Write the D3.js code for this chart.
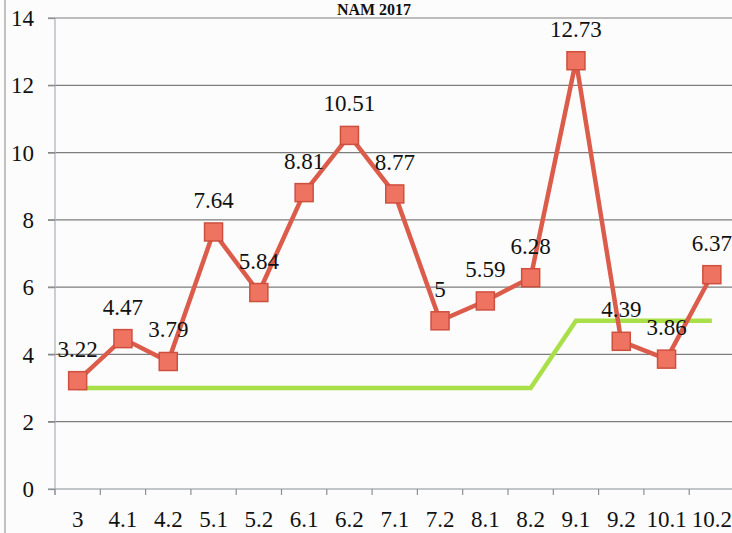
<!DOCTYPE html>
<html>
<head>
<meta charset="utf-8">
<script src="https://cdn.jsdelivr.net/npm/d3@7"></script>
<style>
  html, body { margin: 0; padding: 0; background: #fcfcfc; }
  svg { display: block; }
  svg text { font-family: 'Liberation Serif', 'Times New Roman', Tinos, 'DejaVu Serif', serif; fill: #111; }
</style>
</head>
<body>
<div id="chart"></div>
<script>
const categories = ['3', '4.1', '4.2', '5.1', '5.2', '6.1', '6.2', '7.1', '7.2', '8.1', '8.2', '9.1', '9.2', '10.1', '10.2'];
const measured = [3.22, 4.47, 3.79, 7.64, 5.84, 8.81, 10.51, 8.77, 5, 5.59, 6.28, 12.73, 4.39, 3.86, 6.37];
const limit = [3, 3, 3, 3, 3, 3, 3, 3, 3, 3, 3, 5, 5, 5, 5];
const yTicks = [0, 2, 4, 6, 8, 10, 12, 14];
const title = 'NAM 2017';

const width = 732, height = 533;
const serif = "'Liberation Serif', 'Times New Roman', Tinos, 'DejaVu Serif', serif";

const svg = d3.select('#chart')
    .append('svg')
    .attr('width', width)
    .attr('height', height)
    .attr('font-family', serif);

const x = d3.scaleBand()
    .domain(categories)
    .range([55, 734.5])
    .padding(0);

const y = d3.scaleLinear()
    .domain([0, 14])
    .range([489, 18]);

const cx = d => x(d) + x.bandwidth() / 2;

// outer frame edge on the left
svg.append('line')
    .attr('x1', 5).attr('x2', 5)
    .attr('y1', 0).attr('y2', height)
    .attr('stroke', '#9a9a9a')
    .attr('stroke-width', 1.2);

// title (only its lower part shows in the source)
svg.append('text')
    .attr('x', 374)
    .attr('y', 15)
    .attr('text-anchor', 'middle')
    .attr('font-size', 16)
    .attr('font-weight', 'bold')
    .text(title);

// gridlines
svg.append('g')
    .selectAll('line')
    .data(yTicks)
    .join('line')
    .attr('x1', 48)
    .attr('x2', width)
    .attr('y1', d => y(d))
    .attr('y2', d => y(d))
    .attr('stroke', d => d === 0 ? '#8a8f95' : '#7d7d7d')
    .attr('stroke-width', 1.2);

// y axis
const yAxis = svg.append('g')
    .attr('transform', 'translate(55,0)')
    .call(d3.axisLeft(y).tickValues(yTicks).tickSize(7).tickPadding(14));
yAxis.attr('font-family', serif);
yAxis.select('.domain').attr('stroke', '#a9aec0').attr('stroke-width', 1.2)
    .attr('d', `M0,${y(14)}V${y(0) + 6}`);
yAxis.selectAll('.tick line').attr('stroke', '#8a8f95').attr('stroke-width', 1.2);
yAxis.selectAll('.tick text')
    .attr('font-size', 23)
    .attr('fill', '#111')
    .attr('dy', '0.33em');

// x axis
const xAxis = svg.append('g')
    .attr('transform', `translate(0,${y(0)})`)
    .call(d3.axisBottom(x).tickSize(0).tickPadding(38));
xAxis.attr('font-family', serif);
xAxis.select('.domain').remove();
xAxis.selectAll('.tick text')
    .attr('font-size', 23)
    .attr('fill', '#111')
    .attr('dy', 0);
svg.append('g')
    .selectAll('line')
    .data(categories)
    .join('line')
    .attr('x1', d => x(d))
    .attr('x2', d => x(d))
    .attr('y1', y(0))
    .attr('y2', y(0) + 6)
    .attr('stroke', '#8a8f95')
    .attr('stroke-width', 1.2);

// limit line (green)
const limitLine = d3.line()
    .x((d, i) => cx(categories[i]))
    .y(d => y(d));
svg.append('path')
    .datum(limit)
    .attr('d', limitLine)
    .attr('fill', 'none')
    .attr('stroke', '#a9e04a')
    .attr('stroke-width', 4.5);

// measured line (red)
const measLine = d3.line()
    .x((d, i) => cx(categories[i]))
    .y(d => y(d));
svg.append('path')
    .datum(measured)
    .attr('d', measLine)
    .attr('fill', 'none')
    .attr('stroke', '#dc5c4c')
    .attr('stroke-width', 4.5)
    .attr('stroke-linejoin', 'miter');

const m = 18;
svg.append('g')
    .selectAll('rect')
    .data(measured)
    .join('rect')
    .attr('x', (d, i) => cx(categories[i]) - m / 2)
    .attr('y', d => y(d) - m / 2)
    .attr('width', m)
    .attr('height', m)
    .attr('fill', '#ee7461')
    .attr('stroke', '#cf4f3f')
    .attr('stroke-width', 1.5);

// data labels
svg.append('g')
    .selectAll('text')
    .data(measured)
    .join('text')
    .attr('x', (d, i) => cx(categories[i]))
    .attr('y', d => y(d) - 24)
    .attr('text-anchor', 'middle')
    .attr('font-size', 23)
    .text(d => d);
</script>
</body>
</html>
